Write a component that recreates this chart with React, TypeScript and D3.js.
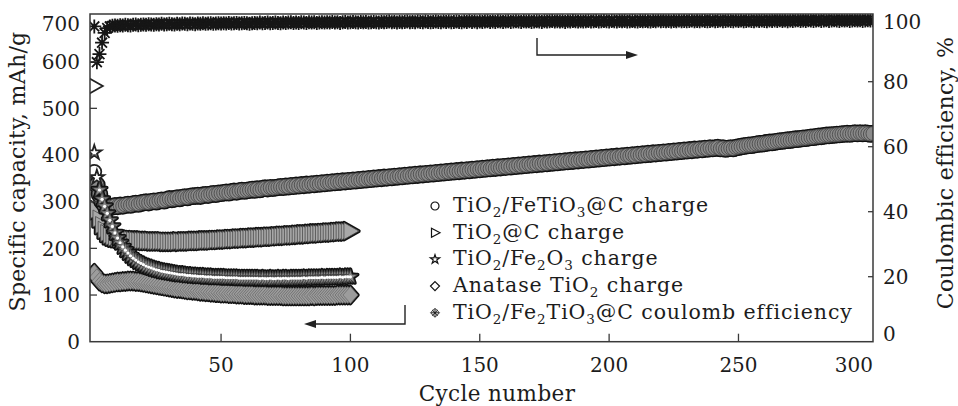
import React from 'react';
import * as d3 from 'd3';

const W = 958;
const H = 406;

const xTicks = [50, 100, 150, 200, 250, 300];
const leftTicks = [0, 100, 200, 300, 400, 500, 600, 700];
const rightTicks = [0, 20, 40, 60, 80, 100];

const xTitle = 'Cycle number';
const leftTitle = 'Specific capacity, mAh/g';
const rightTitle = 'Coulombic efficiency, %';

// TiO2/FeTiO3@C charge capacity (cycles 1..302)
const fetio3Charge = [
  364, 336, 316, 301, 293, 289, 288, 289, 291, 290,
  292, 291, 293, 294, 293, 295, 296, 295, 297, 298,
  299, 298, 300, 301, 300, 302, 303, 302, 304, 306,
  305, 306, 308, 307, 309, 310, 309, 311, 312, 312,
  313, 312, 314, 315, 314, 316, 317, 316, 318, 318,
  319, 320, 319, 321, 322, 321, 323, 324, 323, 324,
  325, 326, 325, 327, 326, 328, 329, 328, 330, 329,
  330, 331, 332, 331, 333, 332, 334, 333, 335, 334,
  336, 335, 337, 336, 338, 337, 339, 338, 340, 339,
  341, 340, 342, 341, 343, 342, 344, 343, 345, 344,
  346, 345, 347, 346, 348, 347, 349, 348, 350, 349,
  351, 350, 352, 351, 353, 352, 354, 353, 355, 354,
  356, 355, 357, 356, 358, 357, 359, 358, 360, 359,
  361, 360, 362, 361, 363, 362, 364, 363, 365, 364,
  366, 365, 367, 366, 368, 367, 369, 368, 370, 369,
  371, 370, 372, 371, 373, 372, 374, 373, 375, 374,
  376, 375, 377, 376, 378, 377, 379, 378, 380, 379,
  381, 380, 382, 381, 383, 382, 384, 383, 385, 384,
  386, 385, 387, 386, 388, 387, 389, 388, 390, 389,
  391, 390, 392, 391, 393, 392, 394, 393, 395, 394,
  396, 395, 397, 396, 398, 397, 399, 398, 400, 399,
  401, 400, 402, 401, 403, 402, 404, 403, 405, 404,
  406, 405, 407, 406, 408, 407, 409, 408, 410, 409,
  411, 410, 412, 411, 413, 412, 414, 413, 415, 414,
  415, 416, 414, 415, 413, 414, 415, 414, 416, 417,
  418, 419, 420, 421, 421, 422, 423, 424, 424, 425,
  426, 427, 427, 428, 429, 430, 430, 431, 432, 432,
  433, 434, 434, 435, 436, 436, 437, 438, 438, 439,
  440, 440, 441, 442, 442, 443, 443, 444, 444, 445,
  445, 446, 445, 446, 447, 446, 447, 446, 447, 446,
  445, 446,
];

// TiO2@C charge capacity (cycles 1..100)
const tioCCharge = [
  548, 282, 264, 250, 240, 233, 228, 225, 223, 222,
  221, 220, 220, 219, 219, 218, 218, 217, 217, 217,
  216, 216, 216, 215, 215, 215, 215, 215, 214, 214,
  214, 214, 214, 215, 214, 215, 215, 215, 215, 216,
  216, 216, 216, 217, 217, 217, 217, 218, 218, 218,
  219, 219, 219, 220, 220, 220, 221, 221, 221, 222,
  222, 222, 223, 223, 223, 224, 224, 224, 225, 225,
  225, 226, 226, 227, 227, 227, 228, 228, 228, 229,
  229, 230, 230, 230, 231, 231, 232, 232, 232, 233,
  233, 234, 234, 234, 235, 235, 236, 236, 236, 237,
];

// TiO2/Fe2O3 charge capacity (cycles 1..100)
const fe2o3Charge = [
  405, 352, 325, 305, 290, 275, 260, 247, 233, 222,
  212, 203, 196, 190, 184, 179, 175, 171, 168, 165,
  162, 160, 158, 156, 154, 153, 151, 150, 149, 148,
  147, 146, 145, 144, 144, 143, 142, 142, 141, 141,
  140, 140, 140, 139, 139, 139, 138, 138, 138, 138,
  138, 137, 137, 137, 137, 137, 136, 136, 136, 136,
  136, 136, 136, 136, 135, 136, 135, 135, 136, 135,
  135, 136, 135, 136, 136, 135, 136, 136, 136, 136,
  136, 137, 136, 137, 137, 137, 137, 137, 138, 137,
  138, 138, 138, 138, 138, 139, 138, 139, 139, 139,
];

// Anatase TiO2 charge capacity (cycles 1..100)
const anataseCharge = [
  147, 138, 130, 126, 124, 124, 125, 126, 127, 128,
  128, 129, 129, 130, 130, 130, 129, 129, 128, 127,
  126, 125, 124, 123, 122, 121, 120, 119, 118, 117,
  116, 115, 114, 114, 113, 112, 111, 111, 110, 110,
  109, 108, 108, 107, 107, 106, 106, 105, 105, 104,
  104, 104, 103, 103, 103, 102, 102, 102, 101, 101,
  101, 101, 100, 100, 100, 100, 100, 99, 99, 99,
  99, 99, 99, 98, 98, 98, 98, 98, 98, 98,
  98, 98, 98, 98, 99, 98, 99, 99, 99, 99,
  99, 99, 99, 99, 100, 100, 100, 100, 100, 100,
];

// TiO2/Fe2TiO3@C coulombic efficiency, % (cycles 1..302)
const coulombEff = [
  97.0, 86.0, 88.5, 92.0, 95.0, 96.5, 97.0, 97.2, 97.3, 97.2,
  97.4, 97.3, 97.5, 97.4, 97.3, 97.5, 97.6, 97.4, 97.5, 97.6,
  97.5, 97.7, 97.6, 97.5, 97.7, 97.6, 97.8, 97.6, 97.7, 97.8,
  97.7, 97.6, 97.8, 97.7, 97.9, 97.8, 97.7, 97.9, 97.8, 97.7,
  97.9, 97.8, 98.0, 97.8, 97.9, 98.0, 97.8, 97.9, 98.0, 97.9,
  98.0, 97.9, 98.1, 97.9, 98.0, 98.1, 97.9, 98.0, 98.1, 98.0,
  97.8, 98.0, 98.1, 98.0, 98.2, 98.0, 98.1, 98.2, 98.0, 98.1,
  98.2, 98.1, 98.0, 98.2, 98.1, 98.2, 98.3, 98.1, 98.2, 98.1,
  98.3, 98.2, 98.1, 98.3, 98.2, 98.3, 98.1, 98.2, 98.3, 98.2,
  98.3, 98.2, 98.4, 98.2, 98.3, 98.1, 98.3, 98.4, 98.2, 98.3,
  98.4, 98.3, 98.2, 98.4, 98.3, 98.4, 98.2, 98.3, 98.4, 98.3,
  98.2, 98.4, 98.3, 98.4, 98.5, 98.3, 98.4, 98.2, 98.4, 98.3,
  98.4, 98.5, 98.3, 98.4, 98.3, 98.5, 98.4, 98.3, 98.5, 98.4,
  98.3, 98.4, 98.5, 98.4, 98.3, 98.5, 98.4, 98.5, 98.3, 98.4,
  98.5, 98.4, 98.3, 98.5, 98.4, 98.6, 98.4, 98.5, 98.3, 98.5,
  98.4, 98.5, 98.6, 98.4, 98.5, 98.4, 98.6, 98.5, 98.4, 98.5,
  98.6, 98.4, 98.5, 98.6, 98.5, 98.4, 98.6, 98.5, 98.6, 98.4,
  98.5, 98.6, 98.5, 98.4, 98.6, 98.5, 98.6, 98.7, 98.5, 98.6,
  98.5, 98.6, 98.4, 98.6, 98.5, 98.7, 98.6, 98.5, 98.6, 98.5,
  98.6, 98.7, 98.5, 98.6, 98.7, 98.5, 98.6, 98.7, 98.6, 98.5,
  98.7, 98.6, 98.5, 98.7, 98.6, 98.7, 98.5, 98.6, 98.7, 98.6,
  98.5, 98.7, 98.6, 98.7, 98.6, 98.5, 98.7, 98.6, 98.8, 98.6,
  98.7, 98.6, 98.7, 98.5, 98.7, 98.6, 98.8, 98.6, 98.7, 98.6,
  98.7, 98.8, 98.6, 98.7, 98.6, 98.8, 98.7, 98.6, 98.7, 98.8,
  98.6, 98.7, 98.8, 98.6, 98.7, 98.8, 98.7, 98.6, 98.8, 98.7,
  98.8, 98.6, 98.7, 98.8, 98.7, 98.6, 98.8, 98.7, 98.8, 98.7,
  98.6, 98.8, 98.7, 98.8, 98.7, 98.9, 98.7, 98.8, 98.6, 98.8,
  98.7, 98.8, 98.9, 98.7, 98.8, 98.7, 98.9, 98.8, 98.7, 98.8,
  98.9, 98.7, 98.8, 98.9, 98.7, 98.8, 98.9, 98.8, 98.7, 98.9,
  98.8, 98.9, 98.7, 98.8, 98.9, 98.8, 98.9, 98.7, 98.8, 98.9,
  98.8, 98.9,
];

type Seg = { t: string; sub?: boolean };
const legendEntries: { key: string; segs: Seg[] }[] = [
  { key: 'circle', segs: [{ t: 'TiO' }, { t: '2', sub: true }, { t: '/FeTiO' }, { t: '3', sub: true }, { t: '@C charge' }] },
  { key: 'triangle', segs: [{ t: 'TiO' }, { t: '2', sub: true }, { t: '@C charge' }] },
  { key: 'star', segs: [{ t: 'TiO' }, { t: '2', sub: true }, { t: '/Fe' }, { t: '2', sub: true }, { t: 'O' }, { t: '3', sub: true }, { t: ' charge' }] },
  { key: 'diamond', segs: [{ t: 'Anatase TiO' }, { t: '2', sub: true }, { t: ' charge' }] },
  { key: 'ce', segs: [{ t: 'TiO' }, { t: '2', sub: true }, { t: '/Fe' }, { t: '2', sub: true }, { t: 'TiO' }, { t: '3', sub: true }, { t: '@C coulomb efficiency' }] },
];

const FONT = "'DejaVu Serif', serif";
const TXT = '#1c1c1c';

const M = { left: 90, right: 873, top: 14, bottom: 341.7 };

const x = d3.scaleLinear().domain([-0.66, 302]).range([M.left, M.right]);
const yL = d3.scaleLinear().domain([0, 700]).range([M.bottom, 15]);
const yR = d3.scaleLinear().domain([0, 100]).range([M.bottom, 16.7]);

const starPath = d3.symbol(d3.symbolStar, 66)() as string;
const starSmall = d3.symbol(d3.symbolStar, 26)() as string;
const triPath = 'M-6.5,-8.5L8.5,0L-6.5,8.5Z';
const triSmall = 'M-3.5,-4.5L5,0L-3.5,4.5Z';
const diaPath = 'M0,-8.5L7.5,0L0,8.5L-7.5,0Z';
const diaSmall = 'M0,-4.5L4.5,0L0,4.5L-4.5,0Z';
const astPath = (r: number) => {
  const a = r * Math.SQRT1_2;
  return `M${-r},0L${r},0M0,${-r}L0,${r}M${-a},${-a}L${a},${a}M${-a},${a}L${a},${-a}`;
};

function shapeOf(kind: string, small?: boolean): string {
  if (kind === 'circle') {
    const r = small ? 4 : 7;
    return `M${-r},0A${r},${r} 0 1,0 ${r},0A${r},${r} 0 1,0 ${-r},0Z`;
  }
  if (kind === 'triangle') return small ? triSmall : triPath;
  if (kind === 'star') return small ? starSmall : starPath;
  if (kind === 'diamond') return small ? diaSmall : diaPath;
  return '';
}

const bandFill: Record<string, string> = {
  circle: '#8a8a8a',
  triangle: '#a8a8a8',
  star: '#868686',
  diamond: '#9c9c9c',
};
const bandInner: Record<string, string> = {
  circle: '#444',
  triangle: '#4a4a4a',
  star: '#3a3a3a',
  diamond: '#6a6a6a',
};

function LegendMarker({ kind }: { kind: string }) {
  if (kind === 'ce') {
    return (
      <g>
        <path d={diaSmall} fill="#fff" stroke="#333" strokeWidth={1} />
        <path d={astPath(4)} stroke="#1a1a1a" strokeWidth={1} fill="none" />
      </g>
    );
  }
  return <path d={shapeOf(kind, true)} fill="#fff" stroke="#111" strokeWidth={1.2} />;
}

function Band({ values, kind, scale }: { values: number[]; kind: string; scale: d3.ScaleLinear<number, number> }) {
  const d = shapeOf(kind);
  const pts = values.map((v, i) => [x(i + 1), scale(v)] as [number, number]);
  // a marker standing apart from its neighbours is drawn open, as in the original
  const isolated = pts.map(([px, py], i) => {
    const near = (j: number) => j >= 0 && j < pts.length && Math.hypot(pts[j][0] - px, pts[j][1] - py) < 11;
    return !near(i - 1) && !near(i + 1);
  });
  return (
    <g>
      {pts.map(([px, py], i) =>
        isolated[i] ? null : (
          <path key={`o${i}`} d={d} transform={`translate(${px},${py})`} fill="#111" stroke="#111" strokeWidth={3.6} strokeLinejoin="round" />
        )
      )}
      {pts.map(([px, py], i) => (
        <path
          key={`f${i}`}
          d={d}
          transform={`translate(${px},${py})`}
          fill={isolated[i] ? '#fff' : bandFill[kind]}
          stroke={isolated[i] ? '#222' : bandInner[kind]}
          strokeWidth={isolated[i] ? 1.8 : 0.8}
        />
      ))}
      {kind === 'star' &&
        pts.map(([px, py], i) => (isolated[i] ? null : <circle key={`w${i}`} cx={px} cy={py} r={1.6} fill="#fff" />))}
    </g>
  );
}

function CEBand({ values }: { values: number[] }) {
  const d = astPath(7);
  return (
    <g>
      {values.map((v, i) => (
        <path key={i} d={d} transform={`translate(${x(i + 1)},${yR(v)})`} stroke="#161616" strokeWidth={1.8} fill="none" />
      ))}
    </g>
  );
}

export default function App() {
  const legendX = 435;
  const legendTextX = 453;
  const legendBase = 212;
  const legendStep = 26.7;

  return (
    <svg width={W} height={H} style={{ position: 'absolute', left: 0, top: 0, background: '#fff' }} fontFamily={FONT}>
      <rect x={0} y={0} width={W} height={H} fill="#fff" />
      <defs>
        <clipPath id="plot">
          <rect x={M.left} y={M.top} width={M.right - M.left} height={M.bottom - M.top} />
        </clipPath>
      </defs>

      <g clipPath="url(#plot)">
        <Band values={anataseCharge} kind="diamond" scale={yL} />
        <Band values={tioCCharge} kind="triangle" scale={yL} />
        <Band values={fetio3Charge} kind="circle" scale={yL} />
        <Band values={fe2o3Charge} kind="star" scale={yL} />
        <CEBand values={coulombEff} />
      </g>

      {/* frame */}
      <rect x={M.left} y={M.top} width={M.right - M.left} height={M.bottom - M.top} fill="none" stroke="#3a3a3a" strokeWidth={1.5} />

      {/* bottom ticks */}
      {xTicks.filter((t) => t < 300).map((t) => (
        <line key={`xt${t}`} x1={x(t)} x2={x(t)} y1={M.bottom} y2={M.bottom - 8} stroke="#3a3a3a" strokeWidth={1.3} />
      ))}
      {xTicks.map((t, i) => (
        <text key={`xl${t}`} x={i === xTicks.length - 1 ? M.right : x(t)} y={372} textAnchor={i === xTicks.length - 1 ? 'end' : 'middle'} fontSize={20} fill={TXT}>{t}</text>
      ))}

      {/* left ticks */}
      {leftTicks.filter((t) => t > 0 && t < 700).map((t) => (
        <line key={`lt${t}`} x1={M.left} x2={M.left + 7} y1={yL(t)} y2={yL(t)} stroke="#3a3a3a" strokeWidth={1.3} />
      ))}
      {leftTicks.map((t) => (
        <text key={`ll${t}`} x={80} y={Math.max(yL(t), 24)} dy="0.36em" textAnchor="end" fontSize={20} fill={TXT}>{t}</text>
      ))}

      {/* right ticks */}
      {rightTicks.filter((t) => t > 0 && t < 100).map((t) => (
        <line key={`rt${t}`} x1={M.right} x2={M.right - 5} y1={yR(t)} y2={yR(t)} stroke="#3a3a3a" strokeWidth={1.3} />
      ))}
      {rightTicks.map((t) => (
        <text key={`rl${t}`} x={883} y={Math.min(Math.max(yR(t), 21.5), 334)} dy="0.36em" textAnchor="start" fontSize={20} fill={TXT}>{t}</text>
      ))}

      {/* axis titles */}
      <text x={497} y={401} textAnchor="middle" fontSize={21.5} letterSpacing={0.4} fill={TXT}>{xTitle}</text>
      <text transform={`translate(25,171.5) rotate(-90)`} textAnchor="middle" fontSize={22} letterSpacing={0.3} fill={TXT}>{leftTitle}</text>
      <text transform={`translate(953,173) rotate(-90)`} textAnchor="middle" fontSize={22} letterSpacing={0.3} fill={TXT}>{rightTitle}</text>

      {/* arrows */}
      <g stroke="#222" strokeWidth={1.4} fill="none">
        <path d="M537,38L537,55L628,55" />
        <path d="M405,305L405,324L314,324" />
      </g>
      <path d="M638,55L626,51L626,59Z" fill="#222" />
      <path d="M304,324L316,320L316,328Z" fill="#222" />

      {/* legend */}
      {legendEntries.map((e, i) => {
        const by = legendBase + i * legendStep;
        return (
          <g key={e.key}>
            <g transform={`translate(${legendX},${by - 6})`}>
              <LegendMarker kind={e.key} />
            </g>
            <text x={legendTextX} y={by} fontSize={20.5} letterSpacing={0.9} fill={TXT}>
              {e.segs.map((s, j) => {
                const prevSub = j > 0 && e.segs[j - 1].sub;
                const dy = s.sub ? 5 : prevSub ? -5 : 0;
                return (
                  <tspan key={j} dy={dy} fontSize={s.sub ? 13.5 : 20.5}>{s.t}</tspan>
                );
              })}
            </text>
          </g>
        );
      })}
    </svg>
  );
}
